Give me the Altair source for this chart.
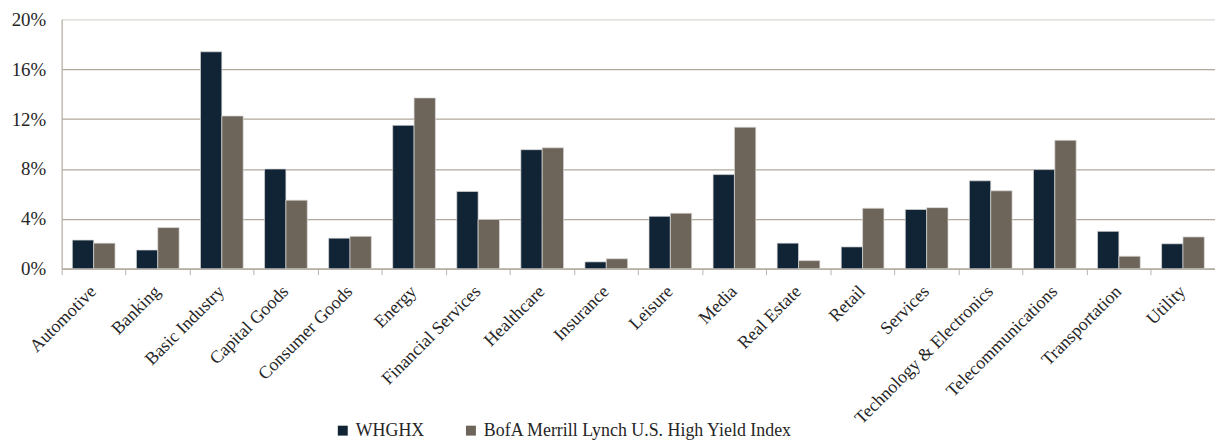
import altair as alt
import pandas as pd

categories = ["Automotive", "Banking", "Basic Industry", "Capital Goods", "Consumer Goods",
              "Energy", "Financial Services", "Healthcare", "Insurance", "Leisure", "Media",
              "Real Estate", "Retail", "Services", "Technology & Electronics",
              "Telecommunications", "Transportation", "Utility"]
series = ["WHGHX", "BofA Merrill Lynch U.S. High Yield Index"]
whghx = [2.3, 1.5, 17.4, 8.0, 2.45, 11.5, 6.2, 9.55, 0.55, 4.2, 7.55, 2.05, 1.75, 4.75, 7.05, 7.95, 3.0, 2.0]
bofa = [2.05, 3.3, 12.25, 5.5, 2.6, 13.7, 3.95, 9.7, 0.8, 4.45, 11.35, 0.65, 4.85, 4.9, 6.25, 10.3, 1.0, 2.55]
colors = ["#112435", "#6e655a"]

rows = []
for c, a, b in zip(categories, whghx, bofa):
    rows.append({"Sector": c, "Series": series[0], "Value": a})
    rows.append({"Sector": c, "Series": series[1], "Value": b})
df = pd.DataFrame(rows)

FONT = "Liberation Serif"
W = 1161
H = 251

chart = alt.Chart(df).mark_bar(stroke="#d9d9d9", strokeWidth=0.7).encode(
    x=alt.X("Sector:N", sort=categories, title=None,
            scale=alt.Scale(paddingInner=0, paddingOuter=0),
            axis=alt.Axis(bandPosition=0, labelOffset=0, labelAngle=-45,
                          labelAlign="right", labelBaseline="middle", labelPadding=14,
                          labelFont=FONT, labelFontSize=18, labelColor="#262626",
                          tickColor="#b8b3aa", tickSize=6, domainColor="#b0a99c",
                          domainWidth=1.2, labelFlush=False, labelOverlap=False,
                          labelLimit=400)),
    xOffset=alt.XOffset("Series:N", sort=series,
                        scale=alt.Scale(paddingInner=0, paddingOuter=0.5)),
    y=alt.Y("Value:Q", title=None,
            scale=alt.Scale(domain=[0, 20], nice=False),
            axis=alt.Axis(values=[0, 4, 8, 12, 16, 20], labelExpr="datum.value + '%'",
                          labelFont=FONT, labelFontSize=19, labelColor="#262626",
                          labelPadding=16, ticks=False, domainColor="#b0a99c",
                          domainWidth=1.2,
                          gridColor={"condition": {"test": "datum.value === 20", "value": "#d8d7d2"},
                                     "value": "#b0a99c"},
                          gridWidth=1.2)),
    color=alt.Color("Series:N", sort=series, title=None,
                    scale=alt.Scale(domain=series, range=colors),
                    legend=alt.Legend(orient="none", legendX=274, legendY=405,
                                      direction="horizontal", symbolType="square",
                                      symbolSize=100, symbolStrokeWidth=0,
                                      labelFont=FONT, labelFontSize=18,
                                      labelColor="#262626", columnPadding=38,
                                      labelOffset=4, labelLimit=600)),
).properties(
    width=W, height=H,
    padding={"left": 54, "top": 10, "right": 0, "bottom": 176},
    autosize=alt.AutoSizeParams(type="none"),
).configure_view(stroke=None)

chart.save("out.html", embed_options={"renderer": "svg", "actions": False})
